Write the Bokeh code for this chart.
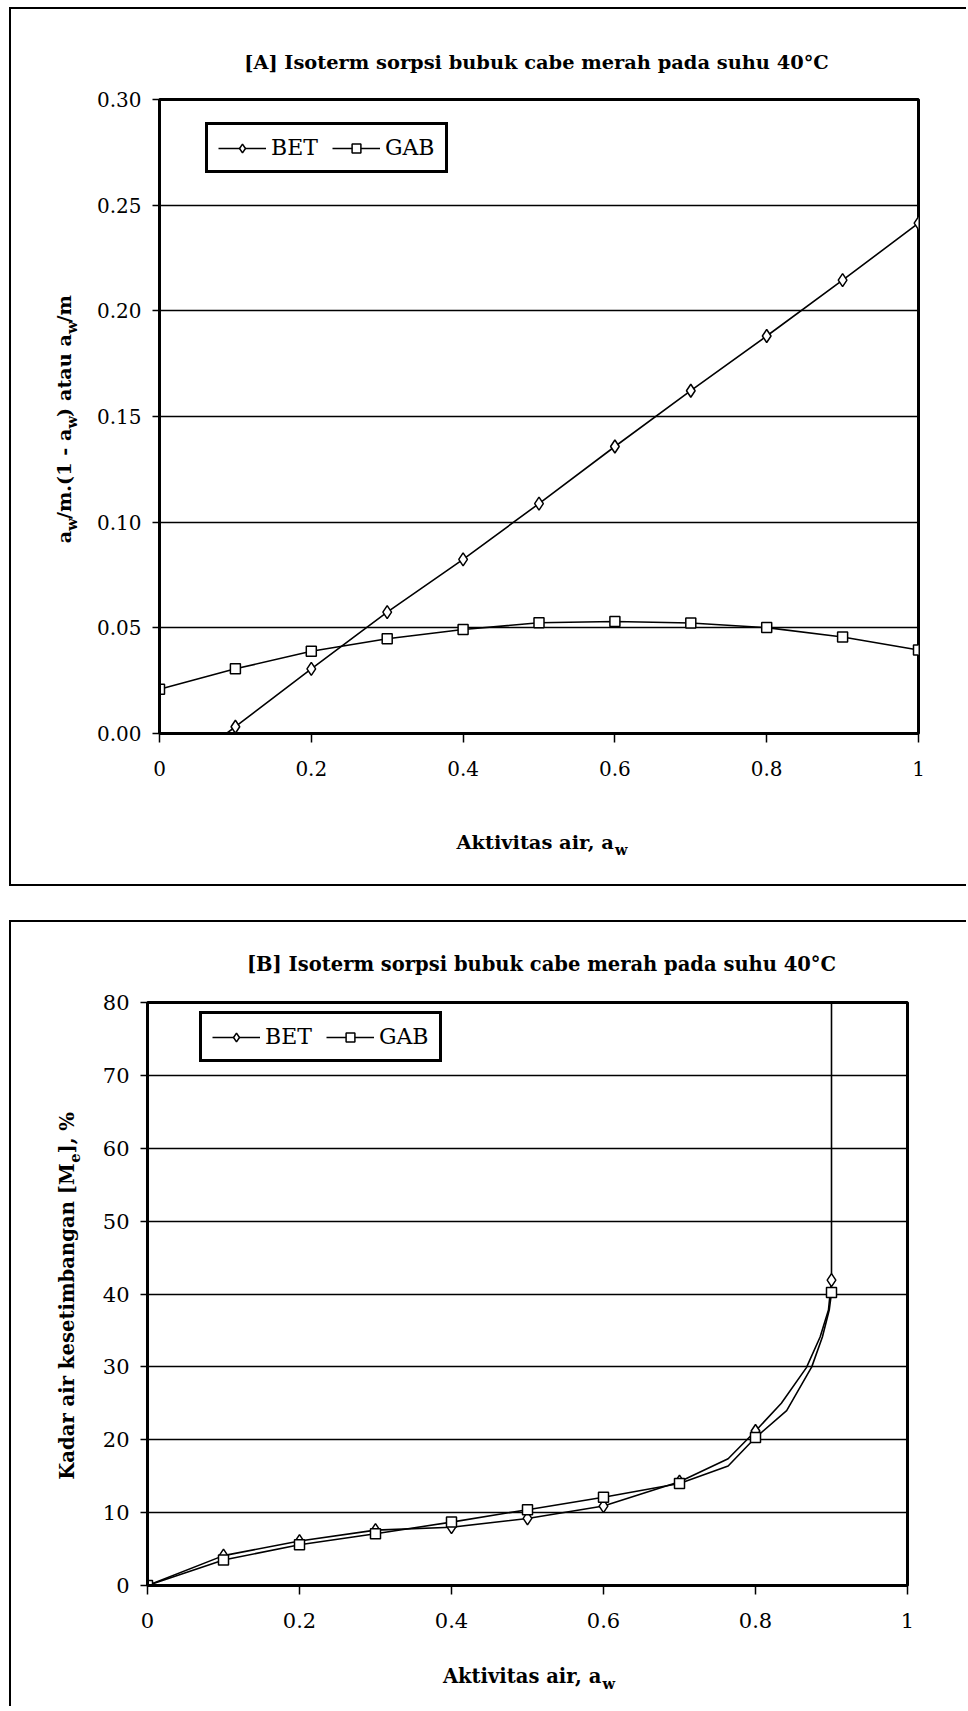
import glob
import math
import struct

from bokeh.plotting import figure
from bokeh.models import FixedTicker, Legend, LegendItem, Label
from bokeh.embed import file_html
from bokeh.resources import INLINE

# ---------------------------------------------------------------- data
series_names = ["BET", "GAB"]
title_a = "[A] Isoterm sorpsi bubuk cabe merah pada suhu 40°C"
title_b = "[B] Isoterm sorpsi bubuk cabe merah pada suhu 40°C"

x_ticks = [0, 0.2, 0.4, 0.6, 0.8, 1]
x_tick_labels = ["0", "0.2", "0.4", "0.6", "0.8", "1"]
ya_ticks = [0, 0.05, 0.10, 0.15, 0.20, 0.25, 0.30]
ya_tick_labels = ["0.00", "0.05", "0.10", "0.15", "0.20", "0.25", "0.30"]
yb_ticks = [0, 10, 20, 30, 40, 50, 60, 70, 80]
yb_tick_labels = ["0", "10", "20", "30", "40", "50", "60", "70", "80"]

# chart A : linearised isotherms
aw_a = [0.0, 0.1, 0.2, 0.3, 0.4, 0.5, 0.6, 0.7, 0.8, 0.9, 1.0]
gab_a = [0.0209, 0.0306, 0.0389, 0.0448, 0.0492, 0.0524, 0.0530, 0.0523, 0.0501, 0.0457, 0.0395]
aw_bet_a = [0.1, 0.2, 0.3, 0.4, 0.5, 0.6, 0.7, 0.8, 0.9, 1.0]
bet_a = [0.0032, 0.0306, 0.0574, 0.0824, 0.1088, 0.1358, 0.1622, 0.1881, 0.2145, 0.2415]
bet_a_line_aw = [0.078, 0.1, 0.2, 0.3, 0.4, 0.5, 0.6, 0.7, 0.8, 0.9, 1.0]
bet_a_line = [-0.0027, 0.0032, 0.0306, 0.0574, 0.0824, 0.1088, 0.1358, 0.1622, 0.1881, 0.2145, 0.2415]

# chart B : equilibrium moisture content (%)
aw_b = [0.0, 0.1, 0.2, 0.3, 0.4, 0.5, 0.6, 0.7, 0.8, 0.9]
bet_b = [0.0, 4.1, 6.1, 7.6, 8.0, 9.2, 10.9, 14.25, 21.2, 41.9]
gab_b = [0.0, 3.5, 5.6, 7.1, 8.7, 10.4, 12.1, 14.0, 20.3, 40.2]
bet_b_line_aw = [0.0, 0.1, 0.2, 0.3, 0.4, 0.5, 0.6, 0.7, 0.764, 0.8, 0.834, 0.867, 0.885, 0.896, 0.9, 0.9]
bet_b_line = [0.0, 4.1, 6.1, 7.6, 8.0, 9.2, 10.9, 14.25, 17.4, 21.2, 25.0, 29.9, 34.1, 37.8, 41.9, 90.0]
gab_b_line_aw = [0.0, 0.1, 0.2, 0.3, 0.4, 0.5, 0.6, 0.7, 0.764, 0.8, 0.841, 0.874, 0.888, 0.897, 0.9]
gab_b_line = [0.0, 3.5, 5.6, 7.1, 8.7, 10.4, 12.1, 14.0, 16.4, 20.3, 24.0, 30.0, 34.1, 37.8, 40.2]

# ---------------------------------------------------------------- font metrics (for sub-script placement)
FONT = "DejaVu Serif"


def _load_font(name):
    paths = []
    for root in ("/usr/share/fonts", "/usr/local/share/fonts", "/usr/lib/fonts"):
        paths += glob.glob(root + "/**/" + name, recursive=True)
    for path in paths:
        try:
            data = open(path, "rb").read()
            n = struct.unpack(">H", data[4:6])[0]
            tables = {}
            for i in range(n):
                tag, _cs, off, ln = struct.unpack(">4sIII", data[12 + 16 * i: 28 + 16 * i])
                tables[tag.decode("latin1")] = off
            head = tables["head"]
            upem = struct.unpack(">H", data[head + 18: head + 20])[0]
            hhea = tables["hhea"]
            nhm = struct.unpack(">H", data[hhea + 34: hhea + 36])[0]
            hm = tables["hmtx"]
            adv = [struct.unpack(">H", data[hm + 4 * i: hm + 4 * i + 2])[0] for i in range(nhm)]
            cm = tables["cmap"]
            nsub = struct.unpack(">H", data[cm + 2: cm + 4])[0]
            so = None
            for i in range(nsub):
                pid, eid, off = struct.unpack(">HHI", data[cm + 4 + 8 * i: cm + 12 + 8 * i])
                fmt = struct.unpack(">H", data[cm + off: cm + off + 2])[0]
                if fmt == 4 and ((pid == 3 and eid == 1) or pid == 0):
                    so = cm + off
                    break
            if so is None:
                continue
            seg2 = struct.unpack(">H", data[so + 6: so + 8])[0]
            seg = seg2 // 2
            ends = struct.unpack(">%dH" % seg, data[so + 14: so + 14 + seg2])
            starts = struct.unpack(">%dH" % seg, data[so + 16 + seg2: so + 16 + 2 * seg2])
            deltas = struct.unpack(">%dh" % seg, data[so + 16 + 2 * seg2: so + 16 + 3 * seg2])
            rpos = so + 16 + 3 * seg2
            roffs = struct.unpack(">%dH" % seg, data[rpos: rpos + seg2])

            def gid(c):
                for i in range(seg):
                    if ends[i] >= c:
                        if starts[i] > c:
                            return 0
                        if roffs[i] == 0:
                            return (c + deltas[i]) & 0xFFFF
                        addr = rpos + 2 * i + roffs[i] + 2 * (c - starts[i])
                        g = struct.unpack(">H", data[addr: addr + 2])[0]
                        return (g + deltas[i]) & 0xFFFF if g else 0
                return 0

            def width(s, size, _adv=adv, _n=nhm, _u=upem):
                return sum(_adv[min(gid(ord(ch)), _n - 1)] for ch in s) * size / _u

            def has(ch):
                return gid(ord(ch)) != 0

            width("a", 10)
            return width, has
        except Exception:
            continue
    return None, None


_wb, _has = _load_font("DejaVuSerif-Bold.ttf")


def text_w(s, size):
    if _wb is not None:
        return _wb(s, size)
    return 0.64 * size * len(s)


def gap_for(width, size):
    """a run of unicode spaces about as wide as `width`"""
    if _wb is None:
        return " " * max(1, int(round(width / (0.32 * size))))
    out, rem = "", width
    for sp in ["\u2003", "\u2002", "\u2004", "\u2005", "\u2006", "\u2009", "\u200a", " "]:
        if not _has(sp):
            continue
        w = text_w(sp, size)
        if w <= 0:
            continue
        while w <= rem + 0.4:
            out += sp
            rem -= w
    return out


SUB_SCALE = 0.75
SUB_DROP = 0.2
BASE_FIX = 0.5   # measured offset of Bokeh's alphabetic baseline, in font sizes

# ---------------------------------------------------------------- page geometry
BORDER = 2
CW = 957
A_H, B_H = 879, 786
B_MARGIN = 34
A_MB = dict(left=148, right=50, top=90, bottom=155)
B_MB = dict(left=136, right=61, top=80, bottom=123)
A_ORIG = (9 + BORDER, 7 + BORDER)
B_ORIG = (9 + BORDER, 7 + A_H + B_MARGIN + BORDER)


def _label(fig, orig, place, px, py, text, size, align, vertical=False):
    if vertical:
        px -= BASE_FIX * size
    else:
        py -= BASE_FIX * size
    fig.add_layout(Label(x=px - orig[0], y=py - orig[1], x_units="canvas", y_units="canvas",
                         text=text, angle=math.pi / 2 if vertical else 0.0,
                         text_font=FONT, text_font_style="bold",
                         text_font_size="%.1fpx" % size, text_color="black",
                         text_align=align, text_baseline="alphabetic"), place)


def add_title(fig, orig, text, cx, base, target_w):
    size = max(16.0, min(24.0, target_w / text_w(text, 1.0)))
    _label(fig, orig, "above", cx, base, text, size, "center")


def add_subbed(fig, orig, place, parts, subs, center, base, length, vertical):
    """parts[i] followed by subscript subs[i] (subs may be shorter by one)."""
    unit = sum(text_w(t, 1.0) for t in parts) + sum(text_w(s, SUB_SCALE) for s in subs)
    size = max(15.0, min(25.0, length / unit))
    ssize = size * SUB_SCALE
    main = ""
    sub_pos = []
    for i, t in enumerate(parts):
        main += t
        if i < len(subs):
            sub_pos.append(text_w(main, size))
            main += gap_for(text_w(subs[i], ssize), size)
    total = text_w(main, size)
    start = center - total / 2 if not vertical else center + total / 2
    if vertical:
        _label(fig, orig, place, base, start, main, size, "left", True)
        for s, off in zip(subs, sub_pos):
            _label(fig, orig, place, base + SUB_DROP * size, start - off, s, ssize, "left", True)
    else:
        _label(fig, orig, place, start, base, main, size, "left")
        for s, off in zip(subs, sub_pos):
            _label(fig, orig, place, start + off, base + SUB_DROP * size, s, ssize, "left")


def style(fig, yticks, ylabels, tick_size):
    fig.xaxis.ticker = FixedTicker(ticks=x_ticks)
    fig.xaxis.major_label_overrides = dict(zip(x_ticks, x_tick_labels))
    fig.yaxis.ticker = FixedTicker(ticks=yticks)
    fig.yaxis.major_label_overrides = dict(zip(yticks, ylabels))
    fig.ygrid.ticker = FixedTicker(ticks=yticks)
    fig.xgrid.visible = False
    fig.ygrid.grid_line_color = "black"
    fig.ygrid.grid_line_width = 1.6
    for ax in (fig.xaxis[0], fig.yaxis[0]):
        ax.axis_line_color = "black"
        ax.axis_line_width = 3
        ax.major_tick_line_color = "black"
        ax.major_tick_line_width = 1.5
        ax.major_tick_in = 0
        ax.minor_tick_line_color = None
        ax.major_label_text_font = FONT
        ax.major_label_text_font_size = tick_size
        ax.major_label_text_color = "black"
    fig.xaxis.major_tick_out = 9
    fig.yaxis.major_tick_out = 7
    fig.xaxis.major_label_standoff = 18
    fig.yaxis.major_label_standoff = 11
    fig.outline_line_color = "black"
    fig.outline_line_width = 3
    fig.outline_line_alpha = 1.0
    fig.background_fill_color = "white"
    fig.border_fill_color = None


def add_series(fig, xl, yl, xm, ym, marker, msize):
    r_line = fig.line(xl, yl, line_color="black", line_width=1.6)
    r_mark = fig.scatter(xm, ym, marker=marker, size=msize, fill_color="white",
                         line_color="black", line_width=1.5)
    return [r_line, r_mark]


def add_legend(fig, items, vx, vy):
    leg = Legend(items=[LegendItem(label=lab, renderers=rs) for lab, rs in items],
                 orientation="horizontal", location=(vx, vy), margin=0,
                 padding=10, spacing=14, glyph_width=48, glyph_height=22,
                 label_height=22, label_standoff=5,
                 label_text_font=FONT, label_text_font_size="22px", label_text_color="black",
                 border_line_color="black", border_line_width=3, border_line_alpha=1.0,
                 background_fill_color="white", background_fill_alpha=1.0)
    fig.add_layout(leg)


def frame_left(orig, mb):
    return orig[0] + mb["left"]


def frame_bottom(orig, h, mb):
    return orig[1] + h - mb["bottom"]


# ---------------------------------------------------------------- chart A
pA = figure(width=CW, height=A_H, x_range=(0, 1), y_range=(0, 0.30),
            output_backend="svg", toolbar_location=None, tools="",
            min_border_left=A_MB["left"], min_border_right=A_MB["right"],
            min_border_top=A_MB["top"], min_border_bottom=A_MB["bottom"])
style(pA, ya_ticks, ya_tick_labels, "20px")
rA_bet = add_series(pA, bet_a_line_aw, bet_a_line, aw_bet_a, bet_a, "diamond", 13)
rA_gab = add_series(pA, aw_a, gab_a, aw_a, gab_a, "square", 10)
add_legend(pA, [(series_names[0], rA_bet), (series_names[1], rA_gab)],
           205 - frame_left(A_ORIG, A_MB), frame_bottom(A_ORIG, A_H, A_MB) - 173)
add_title(pA, A_ORIG, title_a, 534, 70, 586)
add_subbed(pA, A_ORIG, "below", ["Aktivitas air, a"], ["w"], 539, 850, 171, False)
add_subbed(pA, A_ORIG, "left", ["a", "/m.(1 - a", ") atau a", "/m"], ["w", "w", "w"],
           416.5, 72, 251, True)
pA.styles = {"border-top": "2px solid black", "border-left": "2px solid black",
             "border-bottom": "2px solid black"}
pA.margin = (7, 0, 0, 9)

# ---------------------------------------------------------------- chart B
pB = figure(width=CW, height=B_H, x_range=(0, 1), y_range=(0, 80),
            output_backend="svg", toolbar_location=None, tools="",
            min_border_left=B_MB["left"], min_border_right=B_MB["right"],
            min_border_top=B_MB["top"], min_border_bottom=B_MB["bottom"])
style(pB, yb_ticks, yb_tick_labels, "21px")
rB_bet = add_series(pB, bet_b_line_aw, bet_b_line, aw_b, bet_b, "diamond", 13)
rB_gab = add_series(pB, gab_b_line_aw, gab_b_line, aw_b, gab_b, "square", 10)
add_legend(pB, [(series_names[0], rB_bet), (series_names[1], rB_gab)],
           199 - frame_left(B_ORIG, B_MB), frame_bottom(B_ORIG, B_H, B_MB) - 1062)
add_title(pB, B_ORIG, title_b, 539, 972, 590)
add_subbed(pB, B_ORIG, "below", ["Aktivitas air, a"], ["w"], 526, 1684, 172, False)
add_subbed(pB, B_ORIG, "left", ["Kadar air kesetimbangan [M", "], %"], ["e"],
           1293, 75, 368, True)
pB.styles = {"border-top": "2px solid black", "border-left": "2px solid black"}
pB.margin = (B_MARGIN, 0, 0, 9)

open("out.html", "w").write(file_html([pA, pB], INLINE))
